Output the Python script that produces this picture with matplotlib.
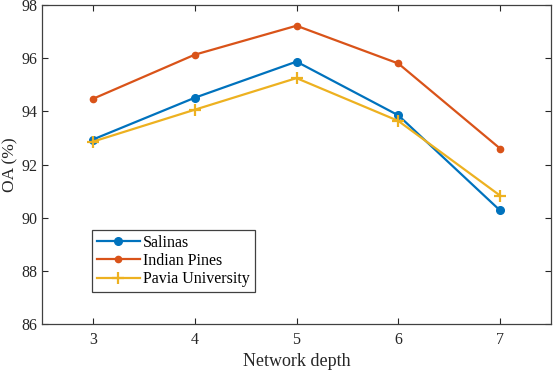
import numpy as np
import matplotlib.pyplot as plt

depth = [3, 4, 5, 6, 7]
salinas = [92.94, 94.51, 95.87, 93.85, 90.27]
indian = [94.47, 96.13, 97.22, 95.80, 92.60]
pavia = [92.86, 94.06, 95.25, 93.64, 90.83]

plt.rcParams['font.family'] = ['Liberation Serif', 'DejaVu Serif']
plt.rcParams['xtick.direction'] = 'in'
plt.rcParams['ytick.direction'] = 'in'

fig = plt.figure(figsize=(5.54, 3.70), dpi=100)
ax = fig.add_axes([0.0758, 0.1243, 0.9188, 0.8622])

ax.plot(depth, salinas, '-o', color='#0072BD', lw=1.6, ms=5.5, label='Salinas')
ax.plot(depth, indian, '-o', color='#D95319', lw=1.6, ms=4.5, label='Indian Pines')
ax.plot(depth, pavia, '-+', color='#EDB120', lw=1.6, ms=8, mew=1.6, label='Pavia University')

ax.set_xlim(2.5, 7.5)
ax.set_ylim(86, 98)
ax.set_xticks(depth)
ax.set_yticks(np.arange(86, 99, 2))
ax.tick_params(top=True, right=True, labelsize=11.5, colors='#262626', length=4, width=0.8)
ax.tick_params(axis='x', pad=6)
for s in ax.spines.values():
    s.set_color('#404040')
    s.set_linewidth(0.9)
ax.set_xlabel('Network depth', fontsize=13, color='#262626', labelpad=3)
ax.set_ylabel('OA (%)', fontsize=12.5, color='#262626', labelpad=2)

leg = ax.legend(loc='lower left', bbox_to_anchor=(0.098, 0.1), fontsize=11.5, fancybox=False,
                edgecolor='#404040', framealpha=1, borderpad=0.3, labelspacing=0.15,
                handlelength=2.7, handletextpad=0.2, borderaxespad=0)
leg.get_frame().set_linewidth(0.9)

fig.savefig('out.png', dpi=100)
